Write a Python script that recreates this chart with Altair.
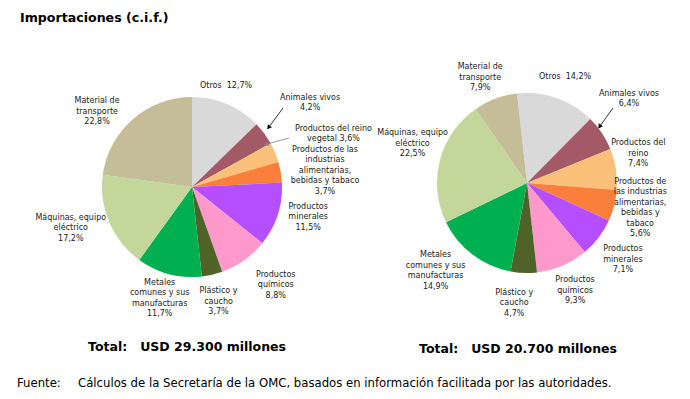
import math
import altair as alt
import pandas as pd

# ---------------- data ----------------
keys = ["otros", "animales", "reino", "alimentarias", "minerales",
        "quimicos", "plastico", "metales", "maquinas", "transporte"]
values_left = [12.7, 4.2, 3.6, 3.7, 11.5, 8.8, 3.7, 11.7, 17.2, 22.8]
values_right = [14.2, 6.4, 7.4, 5.6, 7.1, 9.3, 4.7, 14.9, 22.5, 7.9]
names_left = [
    "Otros\u00a0\u00a0{p}",
    "Animales vivos\n{p}",
    "Productos del reino\nvegetal {p}",
    "Productos de las\nindustrias\nalimentarias,\nbebidas y tabaco\n{p}",
    "Productos\nminerales\n{p}",
    "Productos\nquímicos\n{p}",
    "Plástico y\ncaucho\n{p}",
    "Metales\ncomunes y sus\nmanufacturas\n{p}",
    "Máquinas, equipo\neléctrico\n{p}",
    "Material de\ntransporte\n{p}",
]
names_right = [
    "Otros\u00a0\u00a0{p}",
    "Animales vivos\n{p}",
    "Productos del\nreino\n{p}",
    "Productos de\nlas industrias\nalimentarias,\nbebidas y\ntabaco\n{p}",
    "Productos\nminerales\n{p}",
    "Productos\nquímicos\n{p}",
    "Plástico y\ncaucho\n{p}",
    "Metales\ncomunes y sus\nmanufacturas\n{p}",
    "Máquinas, equipo\neléctrico\n{p}",
    "Material de\ntransporte\n{p}",
]
colors = ["#D9D9D9", "#A35A66", "#FAC07A", "#F97F3B", "#B54EFF",
          "#FF99CC", "#4F6228", "#00B050", "#C4D79B", "#C4BD97"]
title_text = "Importaciones (c.i.f.)"
total_left = "Total:\u00a0\u00a0\u00a0USD 29.300 millones"
total_right = "Total:\u00a0\u00a0\u00a0USD 20.700 millones"
source_head = "Fuente:"
source_text = ("Cálculos de la Secretaría de la OMC, basados en información "
               "facilitada por las autoridades.")

# ---------------- layout (not data) ----------------
W, H = 674, 383
FONT = "DejaVu Sans"
R = 90
LH = 10.5
left_center = (184, 179)
right_center = (519, 175)
left_start_deg = 0.0
right_start_deg = -6.4
# label nudges (degrees from slice mid-angle) and label radii (px)
nudge_left = [-4.3, 1.2, 2.1, 2.5, -3.3, -5.0, 0.0, 1.4, 4.4, -10.6]
rad_left = [107, 145, 151, 134, 120, 129, 118, 116, 128, 121]
nudge_right = [0.5, -5.7, -5.7, -2.0, 1.4, -0.9, 4.0, 8.7, 4.3, -3.4]
rad_right = [113, 132, 115, 116, 123, 118, 121, 127, 121, 115]
# annotation arrows (pixel positions): x1, y1, x2, y2, colour
arrows = [
    (275, 100, 261, 119, "#000000"),
    (281, 130, 259, 136, "#7F7F7F"),
    (605, 100, 592, 118, "#000000"),
]

color_scale = alt.Scale(domain=keys, range=colors)


def fmt(v):
    return f"{v:.1f}".replace(".", ",")


def pie_layers(values, names, nudges, radii, center, start_deg):
    total = sum(values)
    start = math.radians(start_deg)
    rng = [start, start + 2 * math.pi]
    labels_txt = [n.format(p=fmt(v) + "%") for n, v in zip(names, values)]
    df = pd.DataFrame({
        "key": keys,
        "order": list(range(len(keys))),
        "value": values,
        "label": labels_txt,
        "lines": [t.count("\n") + 1 for t in labels_txt],
        "nudge": [d * total / 360.0 for d in nudges],
        "r": radii,
    })
    cx, cy = center
    arcs = alt.Chart(df).mark_arc(outerRadius=R).encode(
        theta=alt.Theta("value:Q", stack=True,
                        scale=alt.Scale(domain=[0, total], range=rng)),
        color=alt.Color("key:N", scale=color_scale, legend=None),
        order=alt.Order("order:Q"),
        x=alt.value(cx),
        y=alt.value(cy),
    )
    labels = alt.Chart(df).transform_window(
        cum="sum(value)", sort=[{"field": "order"}], frame=[None, 0]
    ).transform_calculate(
        ang=f"{start} + 2 * PI * (datum.cum - datum.value / 2 + datum.nudge) / {total}"
    ).transform_calculate(
        lx=f"{cx} + datum.r * sin(datum.ang)",
        ly=f"{cy} - datum.r * cos(datum.ang) - (datum.lines - 1) * {LH} / 2",
    ).mark_text(
        font=FONT, fontSize=8, lineBreak="\n", lineHeight=LH,
        align="center", baseline="middle", color="#1a1a1a"
    ).encode(
        x=alt.X("lx:Q", scale=None),
        y=alt.Y("ly:Q", scale=None),
        text="label:N",
    )
    return [arcs, labels]


def text_mark(txt, x, y, size, weight="normal", align="left"):
    return alt.Chart(pd.DataFrame({"t": [txt]})).mark_text(
        font=FONT, fontSize=size, fontWeight=weight, align=align,
        baseline="middle", color="#000000"
    ).encode(text="t:N", x=alt.value(x), y=alt.value(y))


layers = []
layers += pie_layers(values_left, names_left, nudge_left, rad_left,
                     left_center, left_start_deg)
layers += pie_layers(values_right, names_right, nudge_right, rad_right,
                     right_center, right_start_deg)

for x1, y1, x2, y2, col in arrows:
    layers.append(
        alt.Chart(pd.DataFrame({"a": [0]})).mark_rule(
            color=col, strokeWidth=0.8
        ).encode(x=alt.value(x1), y=alt.value(y1),
                 x2=alt.value(x2), y2=alt.value(y2))
    )
    ang = math.degrees(math.atan2(x2 - x1, -(y2 - y1))) % 360
    layers.append(
        alt.Chart(pd.DataFrame({"a": [0]})).mark_point(
            shape="triangle", filled=True, size=26, color=col,
            opacity=1, angle=ang
        ).encode(x=alt.value(x2), y=alt.value(y2))
    )

layers.append(text_mark(title_text, 12, 10, 12.6, "bold"))
layers.append(text_mark(total_left, 179, 339, 12.5, "bold", "center"))
layers.append(text_mark(total_right, 510, 341, 12.5, "bold", "center"))
layers.append(text_mark(source_head, 9, 375, 11.7))
layers.append(text_mark(source_text, 70, 375, 11.7))

chart = alt.layer(*layers).resolve_scale(
    theta="independent", x="independent", y="independent"
).properties(
    width=W, height=H, padding=0, autosize=alt.AutoSizeParams(type="none")
).configure_view(stroke=None)

chart.save("out.html", embed_options={"renderer": "svg", "actions": False})
